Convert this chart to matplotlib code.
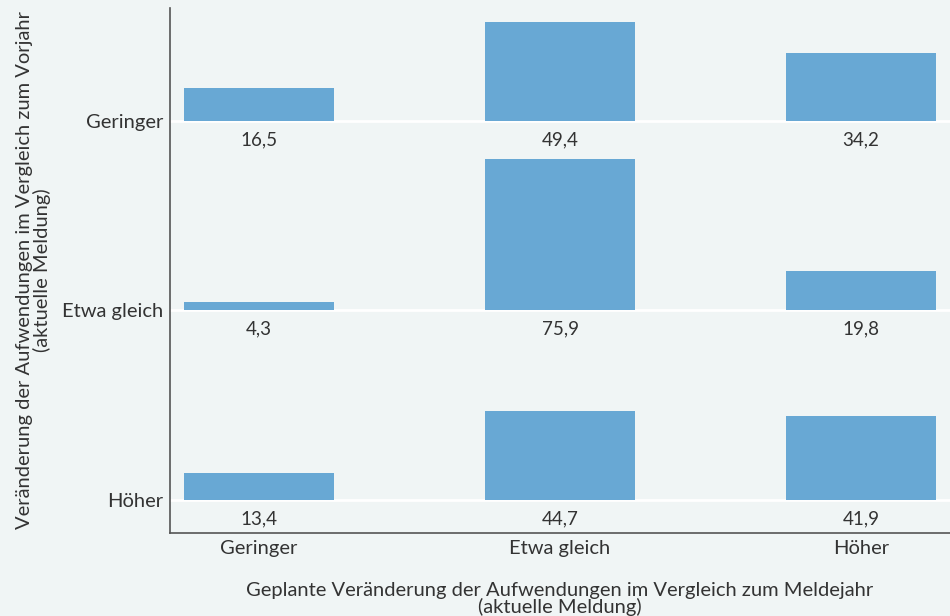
import matplotlib.pyplot as plt

plt.rcParams['font.family'] = ['Lato', 'DejaVu Sans']

# columns: planned change (x), rows: change vs previous year (y)
x_cats = ['Geringer', 'Etwa gleich', 'Höher']
y_cats = ['Höher', 'Etwa gleich', 'Geringer']  # bottom to top
values = {
    'Geringer': [16.5, 49.4, 34.2],
    'Etwa gleich': [4.3, 75.9, 19.8],
    'Höher': [13.4, 44.7, 41.9],
}

bg = '#f0f5f5'
bar_color = '#68a8d4'
text_color = '#333333'

fig = plt.figure(figsize=(9.5, 6.16), dpi=100, facecolor=bg)
ax = fig.add_axes([0.179, 0.135, 0.821, 0.852], facecolor=bg)

vmax = max(max(v) for v in values.values())
scale = 0.8 / vmax

for r, row in enumerate(y_cats):
    ax.axhline(r, color='white', lw=2, zorder=1)
    for c, val in enumerate(values[row]):
        ax.bar(c, val * scale, width=0.5, bottom=r, color=bar_color, zorder=2)
        ax.text(c, r - 0.1, f'{val:.1f}'.replace('.', ','), ha='center', va='center',
                fontsize=13.5, color=text_color)

ax.set_xlim(-0.296, 2.296)
ax.set_ylim(-0.174, 2.596)
ax.set_xticks(range(len(x_cats)))
ax.set_xticklabels(x_cats)
ax.set_yticks(range(len(y_cats)))
ax.set_yticklabels(y_cats)
ax.tick_params(length=0, labelsize=14.5, colors=text_color, pad=5)

for s in ['top', 'right']:
    ax.spines[s].set_visible(False)
for s in ['left', 'bottom']:
    ax.spines[s].set_color('#555555')
    ax.spines[s].set_linewidth(1.2)

ax.set_xlabel('Geplante Veränderung der Aufwendungen im Vergleich zum Meldejahr\n(aktuelle Meldung)',
              fontsize=14.5, color=text_color, linespacing=0.95, labelpad=18)
ax.set_ylabel('Veränderung der Aufwendungen im Vergleich zum Vorjahr\n(aktuelle Meldung)',
              fontsize=14.5, color=text_color, linespacing=0.95, labelpad=8)

fig.savefig('out.png', dpi=100, facecolor=bg)
